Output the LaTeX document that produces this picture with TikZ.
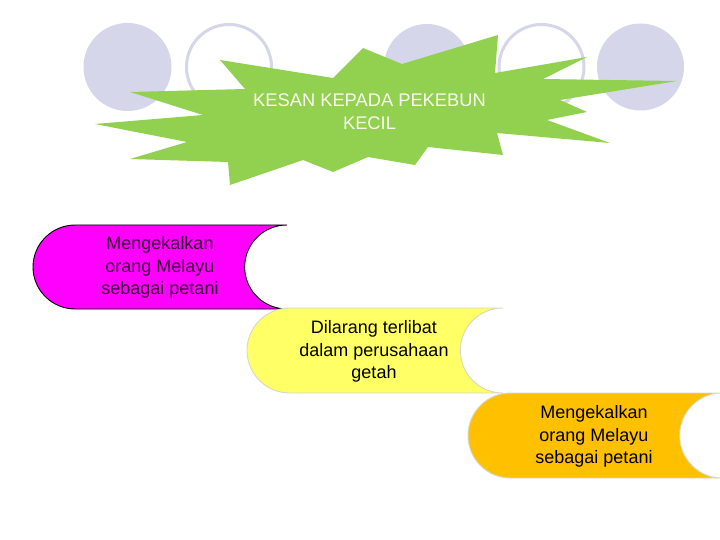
\documentclass[tikz,border=0pt]{standalone}
\usepackage{fontspec}
\setmainfont{Liberation Sans}
\definecolor{lav}{RGB}{214,214,235}
\definecolor{stargreen}{RGB}{146,208,80}
\definecolor{titletxt}{RGB}{250,250,236}
\definecolor{magfill}{RGB}{255,0,255}
\definecolor{magtxt}{RGB}{55,0,55}
\definecolor{yelfill}{RGB}{255,255,102}
\definecolor{orafill}{RGB}{255,192,0}
\definecolor{edgegrey}{RGB}{215,215,205}
\newcommand{\storeddata}[5]{% style, x0, y0, w, h
  \path[#1] ({#2+#4/6},#3) -- ({#2+#4},#3)
    arc[start angle=270, end angle=90, x radius={#4/6}, y radius={#5/2}]
    -- ({#2+#4/6},{#3+#5})
    arc[start angle=90, end angle=270, x radius={#4/6}, y radius={#5/2}]
    -- cycle;}
\tikzset{
  dot/.style={fill=lav},
  ring/.style={draw=lav, line width=3pt},
  boxtext/.style={align=center, font=\fontsize{18}{22.5}\selectfont, inner sep=0pt},
}
\begin{document}
\begin{tikzpicture}[x=1pt,y=-1pt]
\useasboundingbox (0,0) rectangle (720,540);
\fill[white] (0,0) rectangle (720,540);
% decorative circles
\fill[dot] (127.5,67) circle[radius=44];
\draw[ring] (229,67) circle[radius=42.5];
\fill[dot] (427,67) circle[radius=43];
\draw[ring] (541.5,67) circle[radius=42.5];
\fill[dot] (640.5,67) circle[radius=43.5];
% starburst
\fill[stargreen] (95,124) -- (203,115) -- (130,92) -- (245,89) -- (220,60)
  -- (333,78) -- (363,48) -- (402,64) -- (498,35) -- (495,73) -- (587,57)
  -- (543,79) -- (677,81) -- (560,100) -- (587,112) -- (547,120) -- (610,143)
  -- (497,133) -- (503,155) -- (428,147) -- (415,165) -- (368,157) -- (333,172)
  -- (303,160) -- (230,185) -- (228,162) -- (130,159) -- (187,142) -- cycle;
\node[align=center, text=titletxt, font=\fontsize{18.3}{23}\selectfont, inner sep=0pt]
  (title) at (369.5,112) {KESAN KEPADA PEKEBUN\\KECIL};
% stored-data shapes
\storeddata{fill=magfill, draw=black, line width=0.9pt}{33}{225}{254}{84}
\node[boxtext, text=magtxt] (s1) at (160,267.5) {Mengekalkan\\orang Melayu\\sebagai petani};
\storeddata{fill=yelfill, draw=edgegrey, line width=0.9pt}{247}{308}{256}{85}
\node[boxtext] (s2) at (374,351.5) {Dilarang terlibat\\dalam perusahaan\\getah};
\storeddata{fill=orafill, draw=edgegrey, line width=0.9pt}{468}{393}{254}{85}
\node[boxtext] (s3) at (594,436.5) {Mengekalkan\\orang Melayu\\sebagai petani};
\end{tikzpicture}
\end{document}
